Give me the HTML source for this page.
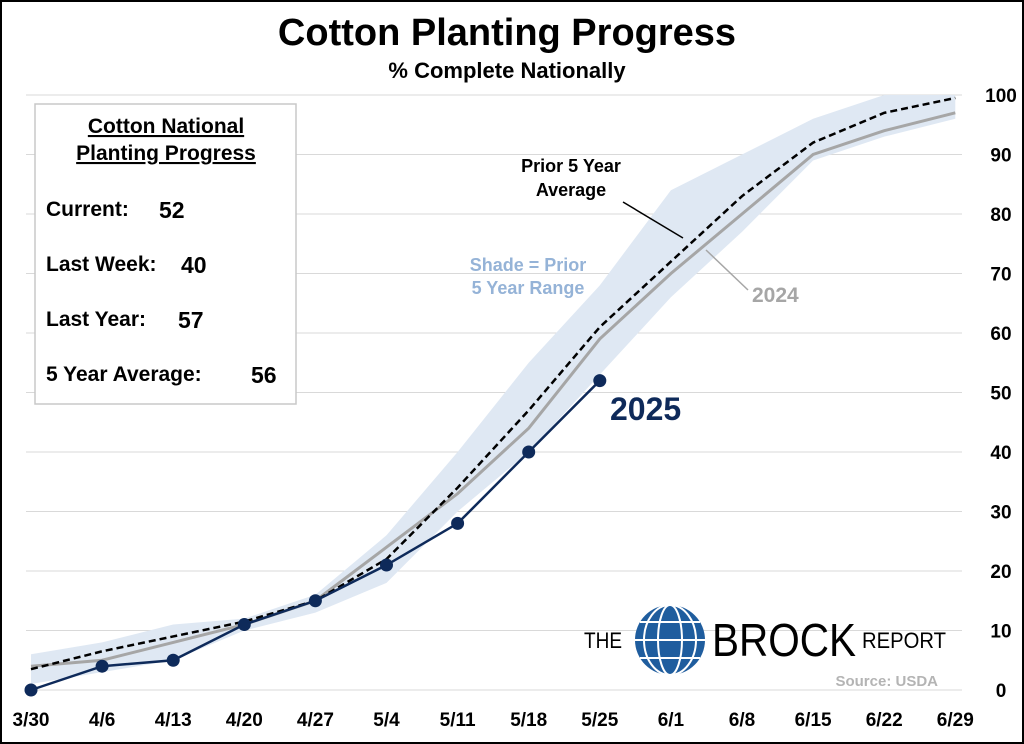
<!DOCTYPE html>
<html><head><meta charset="utf-8"><style>
html,body{margin:0;padding:0;background:#fff}
svg{display:block;font-family:"Liberation Sans",Arial,sans-serif}
</style></head><body>
<svg id="s" width="1024" height="744" viewBox="0 0 1024 744" xmlns="http://www.w3.org/2000/svg">
<rect x="1" y="1" width="1022" height="742" fill="#fff" stroke="#000" stroke-width="2"/>
<text x="507" y="45" text-anchor="middle" font-size="38" font-weight="bold">Cotton Planting Progress</text>
<text x="507" y="78" text-anchor="middle" font-size="22" font-weight="bold">% Complete Nationally</text>
<g id="grid" stroke="#d9d9d9" stroke-width="1"></g>
<path id="shade" fill="#dfe8f3"/>
<polyline id="l24" fill="none" stroke="#a6a6a6" stroke-width="3"/>
<polyline id="avg" fill="none" stroke="#000" stroke-width="2.5" stroke-dasharray="7,4"/>
<polyline id="l25" fill="none" stroke="#0e2a5a" stroke-width="2.5"/>
<g id="dots" fill="#0e2a5a"></g>
<g id="ylab" font-size="19" font-weight="bold" text-anchor="middle"></g>
<g id="xlab" font-size="19" font-weight="bold" text-anchor="middle"></g>
<rect x="35" y="104" width="261" height="300" fill="#fff" stroke="#c8c8c8" stroke-width="1.5"/>
<g font-size="21" font-weight="bold">
<text x="166" y="133" text-anchor="middle" text-decoration="underline">Cotton National</text>
<text x="166" y="160" text-anchor="middle" text-decoration="underline">Planting Progress</text>
<text x="46" y="216">Current:</text><text x="159" y="218" font-size="23">52</text>
<text x="46" y="271">Last Week:</text><text x="181" y="273" font-size="23">40</text>
<text x="46" y="326">Last Year:</text><text x="178" y="328" font-size="23">57</text>
<text x="46" y="381">5 Year Average:</text><text x="251" y="383" font-size="23">56</text>
</g>
<g font-size="18" font-weight="bold">
<text x="571" y="172" text-anchor="middle">Prior 5 Year</text>
<text x="571" y="196" text-anchor="middle">Average</text>
<text x="528" y="271" text-anchor="middle" fill="#95b3d7">Shade = Prior</text>
<text x="528" y="294" text-anchor="middle" fill="#95b3d7">5 Year Range</text>
<text x="752" y="302" fill="#a6a6a6" font-size="21">2024</text>
<text x="610" y="420" fill="#0e2a5a" font-size="32">2025</text>
</g>
<line x1="623" y1="202" x2="683" y2="238" stroke="#000" stroke-width="1.5"/>
<line x1="748" y1="290" x2="706" y2="250" stroke="#a6a6a6" stroke-width="1.5"/>
<text x="938" y="686" font-size="15" font-weight="bold" fill="#b4b4b4" text-anchor="end">Source: USDA</text>
<text x="584" y="648" font-size="22" fill="#000" textLength="38" lengthAdjust="spacingAndGlyphs">THE</text>
<circle cx="670" cy="640" r="35" fill="#1f5d9e"/>
<g stroke="#fff" stroke-width="2" fill="none">
<ellipse cx="670" cy="640" rx="12" ry="35"/><ellipse cx="670" cy="640" rx="26" ry="35"/>
<line x1="635" y1="640" x2="705" y2="640"/><line x1="640" y1="622" x2="700" y2="622"/><line x1="640" y1="658" x2="700" y2="658"/>
</g>
<text x="712" y="656" font-size="46" fill="#000" textLength="144" lengthAdjust="spacingAndGlyphs">BROCK</text>
<text x="862" y="648" font-size="22" fill="#000" textLength="84" lengthAdjust="spacingAndGlyphs">REPORT</text>
</svg>
<script>
const X=i=>31+i*71.1, Y=v=>690-5.95*v, ns="http://www.w3.org/2000/svg";
function el(p,t,a,txt){const e=document.createElementNS(ns,t);for(const k in a)e.setAttribute(k,a[k]);if(txt!==undefined)e.textContent=txt;document.getElementById(p).appendChild(e);}
for(let v=0;v<=100;v+=10){el("grid","line",{x1:26,x2:962,y1:Y(v),y2:Y(v)});el("ylab","text",{x:1001,y:Y(v)+7},v);}
["3/30","4/6","4/13","4/20","4/27","5/4","5/11","5/18","5/25","6/1","6/8","6/15","6/22","6/29"].forEach((t,i)=>el("xlab","text",{x:X(i),y:726},t));
const pts=a=>a.map((v,i)=>X(i)+","+Y(v)).join(" ");
const up=[6,8,11,12,16,26,40,55,68,84,90,96,100,100], lo=[1,3,5,10,13,18,30,40,53,66,77,89,93,96];
let d="M"+up.map((v,i)=>X(i)+","+Y(v)).join(" L");for(let i=lo.length-1;i>=0;i--)d+=" L"+X(i)+","+Y(lo[i]);
document.getElementById("shade").setAttribute("d",d+"Z");
document.getElementById("l24").setAttribute("points",pts([4,5,8,11,15,24,33,44,59,70,80,90,94,97]));
document.getElementById("avg").setAttribute("points",pts([3.5,6.5,9,11.5,15,22,34,47,61,72,83,92,97,99.5]));
const c=[0,4,5,11,15,21,28,40,52];
document.getElementById("l25").setAttribute("points",pts(c));
c.forEach((v,i)=>el("dots","circle",{cx:X(i),cy:Y(v),r:6.5}));
</script>
</body></html>
